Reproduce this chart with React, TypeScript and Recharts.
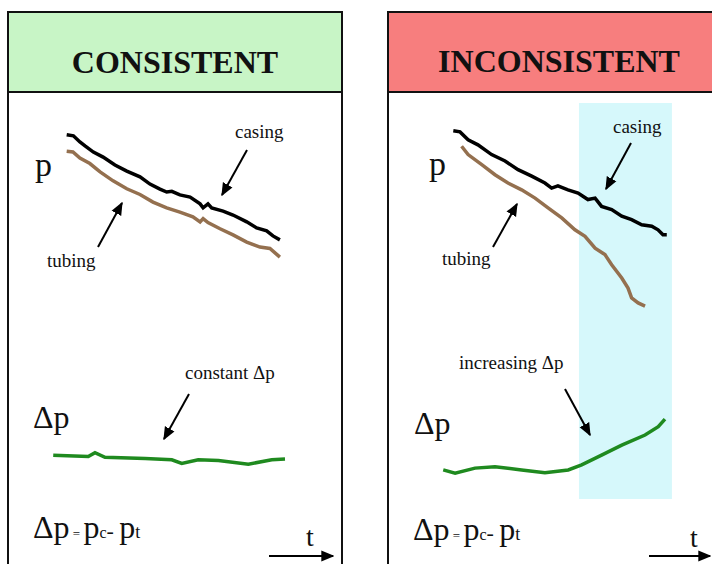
import React from 'react';
import { LineChart, Line, XAxis, YAxis, ReferenceArea } from 'recharts';

// t = time (0-100), p = pressure level (0-100)
const consistentCasing = [
  { t: 5.9, p: 95.9 }, { t: 8.8, p: 95.6 }, { t: 11.6, p: 93.9 }, { t: 13.8, p: 92.8 },
  { t: 17.4, p: 91.1 }, { t: 21.6, p: 89.7 }, { t: 26.7, p: 87.5 }, { t: 31.8, p: 85.8 },
  { t: 37.5, p: 84.2 }, { t: 41.8, p: 82.2 }, { t: 46.1, p: 80.8 }, { t: 49.0, p: 80.0 },
  { t: 51.2, p: 80.2 }, { t: 54.7, p: 79.2 }, { t: 59.1, p: 78.6 }, { t: 63.4, p: 76.7 },
  { t: 64.7, p: 75.6 }, { t: 66.8, p: 76.7 }, { t: 68.4, p: 75.6 }, { t: 73.3, p: 74.7 },
  { t: 77.6, p: 73.6 }, { t: 83.5, p: 71.7 }, { t: 87.8, p: 70.0 }, { t: 92.1, p: 69.2 },
  { t: 94.8, p: 67.8 }, { t: 97.8, p: 66.7 },
];

const consistentTubing = [
  { t: 5.9, p: 91.3 }, { t: 8.6, p: 91.1 }, { t: 11.6, p: 89.4 }, { t: 15.9, p: 87.9 },
  { t: 20.3, p: 85.6 }, { t: 25.9, p: 83.1 }, { t: 31.8, p: 80.9 }, { t: 37.5, p: 79.3 },
  { t: 43.1, p: 77.2 }, { t: 49.0, p: 75.6 }, { t: 54.7, p: 74.4 }, { t: 60.3, p: 73.1 },
  { t: 63.4, p: 71.7 }, { t: 64.7, p: 72.6 }, { t: 66.8, p: 71.5 }, { t: 72.0, p: 69.8 },
  { t: 77.6, p: 68.1 }, { t: 83.5, p: 66.1 }, { t: 89.2, p: 64.7 }, { t: 93.5, p: 64.3 },
  { t: 97.8, p: 61.9 },
];

const consistentDp = [
  { t: 0.1, p: 6.9 }, { t: 15.2, p: 6.5 }, { t: 18.1, p: 7.6 }, { t: 22.4, p: 6.3 },
  { t: 39.7, p: 6.0 }, { t: 51.2, p: 5.6 }, { t: 55.5, p: 4.6 }, { t: 62.6, p: 5.6 },
  { t: 71.3, p: 5.4 }, { t: 84.2, p: 4.4 }, { t: 94.3, p: 5.6 }, { t: 100, p: 5.8 },
];

const inconsistentCasing = [
  { t: 4.6, p: 97.0 }, { t: 7.6, p: 96.7 }, { t: 11.2, p: 94.5 }, { t: 15.6, p: 93.1 },
  { t: 21.7, p: 90.4 }, { t: 27.7, p: 88.6 }, { t: 33.5, p: 86.2 }, { t: 39.6, p: 84.4 },
  { t: 45.5, p: 82.5 }, { t: 48.5, p: 81.1 }, { t: 51.3, p: 81.7 }, { t: 55.8, p: 80.6 },
  { t: 60.3, p: 79.7 }, { t: 64.7, p: 77.9 }, { t: 67.9, p: 78.3 }, { t: 70.8, p: 76.0 },
  { t: 75.3, p: 75.1 }, { t: 79.8, p: 73.3 }, { t: 84.2, p: 72.3 }, { t: 88.7, p: 70.9 },
  { t: 93.2, p: 70.5 }, { t: 96.0, p: 69.5 }, { t: 98.2, p: 68.1 }, { t: 99.9, p: 68.1 },
];

const inconsistentTubing = [
  { t: 8.3, p: 92.7 }, { t: 11.2, p: 90.4 }, { t: 17.3, p: 87.6 }, { t: 23.2, p: 84.8 },
  { t: 29.0, p: 82.5 }, { t: 35.1, p: 80.6 }, { t: 41.1, p: 78.3 }, { t: 46.9, p: 75.6 },
  { t: 53.0, p: 72.8 }, { t: 58.9, p: 69.5 }, { t: 63.4, p: 67.7 }, { t: 67.9, p: 64.4 },
  { t: 72.3, p: 62.6 }, { t: 75.3, p: 59.8 }, { t: 79.8, p: 56.1 }, { t: 82.6, p: 53.3 },
  { t: 84.2, p: 50.6 }, { t: 87.1, p: 49.2 }, { t: 90.2, p: 48.3 },
];

const inconsistentDp = [
  { t: 0.1, p: 2.8 }, { t: 5.4, p: 1.9 }, { t: 14.3, p: 3.3 }, { t: 23.2, p: 3.7 },
  { t: 35.1, p: 2.8 }, { t: 45.5, p: 2.0 }, { t: 55.9, p: 2.8 }, { t: 61.9, p: 4.2 },
  { t: 70.8, p: 6.9 }, { t: 79.8, p: 9.7 }, { t: 90.2, p: 12.5 }, { t: 96.1, p: 14.8 },
  { t: 99.1, p: 16.9 },
];

// shaded window where the casing/tubing pressures diverge
const anomalyT = [60.7, 102.2];
const anomalyP = [-5.3, 104.7];

const SERIF = '"Liberation Serif", "Times New Roman", serif';

const PressureChart = ({ left, marginLeft, marginRight, casing, tubing, dp, shade }: any) => (
  <div style={{ position: 'absolute', left, top: 0 }}>
    <LineChart
      width={356}
      height={564}
      margin={{ top: 120, bottom: 84, left: marginLeft, right: marginRight }}
    >
      <XAxis type="number" dataKey="t" domain={[0, 100]} hide />
      <YAxis type="number" domain={[0, 100]} hide />
      {shade && (
        <ReferenceArea
          x1={anomalyT[0]}
          x2={anomalyT[1]}
          y1={anomalyP[0]}
          y2={anomalyP[1]}
          fill="#d6f8fb"
          fillOpacity={1}
          stroke="none"
          ifOverflow="visible"
        />
      )}
      <Line data={dp} dataKey="p" type="linear" stroke="#1f8a1f" strokeWidth={3.5} dot={false} isAnimationActive={false} />
      <Line data={tubing} dataKey="p" type="linear" stroke="#94704f" strokeWidth={3.5} dot={false} isAnimationActive={false} />
      <Line data={casing} dataKey="p" type="linear" stroke="#000" strokeWidth={3.5} dot={false} isAnimationActive={false} />
    </LineChart>
  </div>
);

const Arrow = ({ x1, y1, x2, y2 }: any) => (
  <line x1={x1} y1={y1} x2={x2} y2={y2} stroke="#000" strokeWidth={2} markerEnd="url(#head)" />
);

const Formula = ({ x, y }: any) => (
  <text x={x} y={y} fontFamily={SERIF} fill="#111">
    <tspan fontSize={32}>Δp</tspan>
    <tspan fontSize={13}> = </tspan>
    <tspan fontSize={32}>p</tspan>
    <tspan fontSize={16}>c</tspan>
    <tspan fontSize={22}>- </tspan>
    <tspan fontSize={32}>p</tspan>
    <tspan fontSize={18}>t</tspan>
  </text>
);

export default function App() {
  return (
    <div style={{ position: 'absolute', left: 0, top: 0, width: 712, height: 564, overflow: 'hidden', background: '#fff' }}>
      {/* panel frames */}
      <div style={{ position: 'absolute', left: 7, top: 11, width: 336, height: 600, border: '2px solid #111', boxSizing: 'border-box' }}>
        <div style={{ height: 78, background: '#c8f5c6', borderBottom: '2px solid #111' }} />
      </div>
      <div style={{ position: 'absolute', left: 387, top: 11, width: 340, height: 600, border: '2px solid #111', boxSizing: 'border-box' }}>
        <div style={{ height: 78, background: '#f77e7e', borderBottom: '2px solid #111' }} />
      </div>

      <PressureChart left={0} marginLeft={53} marginRight={71} casing={consistentCasing} tubing={consistentTubing} dp={consistentDp} />
      <PressureChart left={356} marginLeft={87} marginRight={45} casing={inconsistentCasing} tubing={inconsistentTubing} dp={inconsistentDp} shade />

      <svg width={712} height={564} style={{ position: 'absolute', left: 0, top: 0 }}>
        <defs>
          <marker id="head" viewBox="0 0 10 10" refX="9" refY="5" markerWidth="13" markerHeight="13" markerUnits="userSpaceOnUse" orient="auto">
            <path d="M0,0.8 L10,5 L0,9.2 z" fill="#000" />
          </marker>
        </defs>

        <text x={175} y={73} textAnchor="middle" fontFamily={SERIF} fontWeight="bold" fontSize={32} fill="#111">CONSISTENT</text>
        <text x={559} y={72} textAnchor="middle" fontFamily={SERIF} fontWeight="bold" fontSize={32} fill="#111">INCONSISTENT</text>

        {/* consistent panel */}
        <text x={35} y={176} fontFamily={SERIF} fontSize={34} fill="#111">p</text>
        <text x={235} y={138} fontFamily={SERIF} fontSize={19} fill="#111">casing</text>
        <Arrow x1={247} y1={150} x2={222} y2={195} />
        <text x={47} y={267} fontFamily={SERIF} fontSize={19} fill="#111">tubing</text>
        <Arrow x1={98} y1={247} x2={122} y2={203} />
        <text x={185} y={379} fontFamily={SERIF} fontSize={19} fill="#111">constant Δp</text>
        <Arrow x1={189} y1={394} x2={164} y2={439} />
        <text x={33} y={428} fontFamily={SERIF} fontSize={32} fill="#111">Δp</text>
        <Formula x={33} y={538} />
        <text x={306} y={546} fontFamily={SERIF} fontSize={28} fill="#111">t</text>
        <Arrow x1={269} y1={556} x2={333} y2={556} />

        {/* inconsistent panel */}
        <text x={429} y={175} fontFamily={SERIF} fontSize={34} fill="#111">p</text>
        <text x={613} y={133} fontFamily={SERIF} fontSize={19} fill="#111">casing</text>
        <Arrow x1={631} y1={143} x2={606} y2={189} />
        <text x={442} y={265} fontFamily={SERIF} fontSize={19} fill="#111">tubing</text>
        <Arrow x1={493} y1={247} x2={517} y2={204} />
        <text x={459} y={369} fontFamily={SERIF} fontSize={19} fill="#111">increasing Δp</text>
        <Arrow x1={565} y1={389} x2={590} y2={435} />
        <text x={414} y={434} fontFamily={SERIF} fontSize={32} fill="#111">Δp</text>
        <Formula x={413} y={540} />
        <text x={690} y={547} fontFamily={SERIF} fontSize={28} fill="#111">t</text>
        <Arrow x1={649} y1={556} x2={710} y2={556} />
      </svg>
    </div>
  );
}
